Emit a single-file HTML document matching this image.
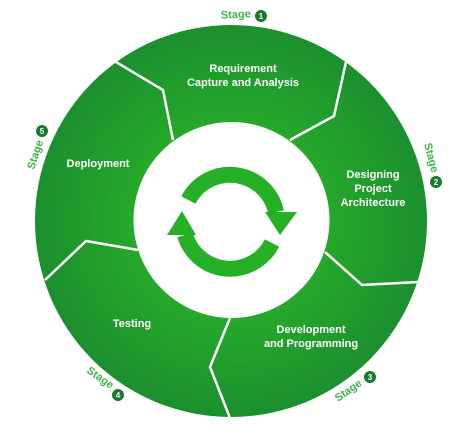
<!DOCTYPE html>
<html><head><meta charset="utf-8"><style>
html,body{margin:0;padding:0;background:#fff;}
svg{display:block;font-family:"Liberation Sans",sans-serif;}
</style></head><body>
<svg width="472" height="429" viewBox="0 0 472 429">
<defs>
<radialGradient id="g" cx="231" cy="221" r="196" gradientUnits="userSpaceOnUse">
<stop offset="0.4" stop-color="#28ad2a"/><stop offset="1" stop-color="#1b902e"/>
</radialGradient>
</defs>
<circle cx="231" cy="221" r="196" fill="url(#g)"/>
<g stroke="#fff" stroke-width="2.5" fill="none">
<polyline points="116,62 163,90 173,140"/>
<polyline points="346,62 334,116 290,140"/>
<polyline points="325,252 362,285 418,282"/>
<polyline points="230,318 210,367 230,418"/>
<polyline points="45,280 86,241 138,250"/>
</g>
<circle cx="231.5" cy="220" r="98" fill="#fff"/>
<g fill="#26b026">
<path d="M188.4,200 A47,47 0 0 1 276,212" fill="none" stroke="#26b026" stroke-width="16"/>
<polygon points="265,212 297,212 280,235"/>
<path d="M272,243 A47,47 0 0 1 185,235" fill="none" stroke="#26b026" stroke-width="16"/>
<polygon points="167,235 196,235 182,211"/>
</g>
<g fill="#fff" font-size="11" font-weight="bold" text-anchor="middle">
<text x="243" y="72">Requirement</text>
<text x="243" y="86">Capture and Analysis</text>
<text x="373" y="178">Designing</text>
<text x="373" y="192">Project</text>
<text x="373" y="206">Architecture</text>
<text x="311" y="333">Development</text>
<text x="311" y="347">and Programming</text>
<text x="132" y="327">Testing</text>
<text x="98" y="167">Deployment</text>
</g>
<g font-size="11" font-weight="bold" fill="#3cb54a">
<text x="236" y="18" text-anchor="middle" transform="rotate(-3 236 18)">Stage</text>
<text transform="translate(424,144) rotate(75)">Stage</text>
<text transform="translate(338,402) rotate(-35)">Stage</text>
<text transform="translate(86,372) rotate(35)">Stage</text>
<text transform="translate(34,170) rotate(-72)">Stage</text>
</g>
<g font-size="8" font-weight="bold" fill="#fff" text-anchor="middle">
<g><circle cx="261" cy="16" r="6" fill="#1a7a30"/><text x="261" y="19">1</text></g>
<g><circle cx="436" cy="182" r="6" fill="#1a7a30"/><text x="436" y="185">2</text></g>
<g><circle cx="370" cy="377" r="6" fill="#1a7a30"/><text x="370" y="380">3</text></g>
<g><circle cx="118" cy="395" r="6" fill="#1a7a30"/><text x="118" y="398">4</text></g>
<g><circle cx="42" cy="131" r="6" fill="#1a7a30"/><text x="42" y="134">5</text></g>
</g>
</svg>
</body></html>
